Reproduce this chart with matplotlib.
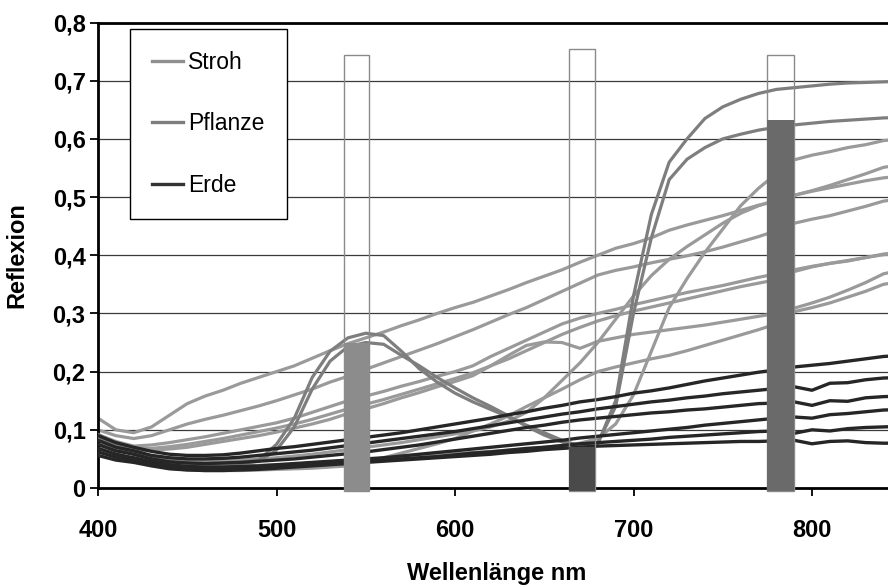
import matplotlib
matplotlib.use("Agg")
import matplotlib.pyplot as plt
from matplotlib.ticker import FixedLocator, FuncFormatter

plt.rcParams['font.family'] = ['Liberation Sans', 'DejaVu Sans']

# Wellenlaengen der Messpunkte (nm)
wl = list(range(400, 860, 10))

# Reflexionsspektren Stroh
stroh = [
    [0.12, 0.10, 0.095, 0.105, 0.125, 0.145, 0.158, 0.168, 0.18, 0.19,
     0.20, 0.21, 0.223, 0.236, 0.248, 0.258, 0.268, 0.279, 0.289, 0.30,
     0.31, 0.319, 0.33, 0.341, 0.353, 0.364, 0.375, 0.388, 0.40, 0.412,
     0.42, 0.43, 0.443, 0.452, 0.46, 0.468, 0.477, 0.486, 0.493, 0.503,
     0.511, 0.52, 0.53, 0.54, 0.551, 0.556],
    [0.10, 0.09, 0.085, 0.09, 0.10, 0.11, 0.118, 0.125, 0.133, 0.141,
     0.15, 0.16, 0.17, 0.182, 0.192, 0.204, 0.215, 0.226, 0.237, 0.248,
     0.26, 0.272, 0.285, 0.298, 0.31, 0.324, 0.338, 0.352, 0.366, 0.374,
     0.38, 0.387, 0.393, 0.399, 0.406, 0.414, 0.423, 0.432, 0.442, 0.455,
     0.462, 0.468, 0.476, 0.484, 0.493, 0.497],
    [0.092, 0.08, 0.072, 0.074, 0.078, 0.083, 0.088, 0.094, 0.10, 0.106,
     0.112, 0.12, 0.13, 0.14, 0.15, 0.158, 0.166, 0.175, 0.183, 0.192,
     0.20, 0.21, 0.226, 0.24, 0.254, 0.268, 0.282, 0.292, 0.30, 0.307,
     0.315, 0.322, 0.329, 0.336, 0.342, 0.348, 0.355, 0.362, 0.368, 0.375,
     0.381, 0.386, 0.391, 0.396, 0.402, 0.405],
    [0.088, 0.076, 0.068, 0.068, 0.071, 0.075, 0.08, 0.085, 0.091, 0.097,
     0.103, 0.11, 0.118, 0.127, 0.136, 0.144, 0.152, 0.161, 0.17, 0.179,
     0.188, 0.198, 0.21, 0.222, 0.236, 0.25, 0.264, 0.276, 0.287, 0.296,
     0.304, 0.311, 0.318, 0.325, 0.332, 0.339, 0.346, 0.352, 0.358, 0.372,
     0.38, 0.386, 0.39, 0.396, 0.401, 0.404],
    [0.085, 0.075, 0.065, 0.065, 0.067, 0.07, 0.075, 0.08, 0.085, 0.09,
     0.096, 0.103, 0.11, 0.118, 0.128, 0.136, 0.145, 0.155, 0.164, 0.174,
     0.183, 0.193, 0.21, 0.228, 0.245, 0.251, 0.25, 0.24, 0.252, 0.258,
     0.264, 0.268, 0.272, 0.276, 0.28, 0.285, 0.29, 0.295, 0.30, 0.309,
     0.318, 0.328, 0.34, 0.353, 0.368, 0.375],
    [0.075, 0.06, 0.048, 0.04, 0.034, 0.031, 0.03, 0.03, 0.03, 0.031,
     0.032, 0.033, 0.034, 0.036, 0.038, 0.045, 0.052, 0.06, 0.068, 0.076,
     0.085, 0.098, 0.11, 0.124, 0.14, 0.155, 0.17, 0.186, 0.20, 0.208,
     0.215, 0.222, 0.228, 0.236, 0.245, 0.254, 0.263, 0.272, 0.282, 0.303,
     0.31, 0.318, 0.328, 0.338, 0.35, 0.355],
    [0.07, 0.058, 0.05, 0.044, 0.04, 0.038, 0.037, 0.037, 0.038, 0.039,
     0.04, 0.041, 0.043, 0.045, 0.047, 0.049, 0.051, 0.053, 0.055, 0.057,
     0.059, 0.061, 0.063, 0.065, 0.067, 0.07, 0.073, 0.077, 0.085, 0.11,
     0.16, 0.235, 0.31, 0.36, 0.405, 0.445, 0.485, 0.515, 0.54, 0.564,
     0.572, 0.578, 0.585, 0.59, 0.597, 0.60],
    [0.08, 0.07, 0.06, 0.055, 0.05, 0.048, 0.047, 0.047, 0.048, 0.05,
     0.052, 0.055, 0.058, 0.062, 0.066, 0.07, 0.074, 0.078, 0.083, 0.088,
     0.093, 0.098, 0.105, 0.115, 0.13, 0.155, 0.185, 0.215, 0.25, 0.29,
     0.33, 0.365, 0.393, 0.415, 0.435, 0.455, 0.472, 0.485, 0.495, 0.503,
     0.51, 0.516, 0.522, 0.528, 0.533, 0.536],
]

# Reflexionsspektren Pflanze (gruener Peak, roter Rand)
pflanze = [
    [0.092, 0.076, 0.062, 0.052, 0.046, 0.043, 0.042, 0.042, 0.044, 0.048,
     0.075, 0.12, 0.19, 0.235, 0.258, 0.266, 0.262, 0.235, 0.205, 0.182,
     0.163, 0.148, 0.135, 0.122, 0.108, 0.095, 0.082, 0.072, 0.076, 0.15,
     0.33, 0.47, 0.56, 0.60, 0.635, 0.655, 0.668, 0.678, 0.685, 0.688,
     0.691, 0.694, 0.696, 0.697, 0.698, 0.699],
    [0.086, 0.072, 0.058, 0.049, 0.044, 0.041, 0.04, 0.04, 0.042, 0.046,
     0.065, 0.105, 0.17, 0.218, 0.243, 0.25, 0.247, 0.228, 0.21, 0.19,
     0.172, 0.155, 0.14, 0.124, 0.106, 0.091, 0.079, 0.072, 0.078, 0.14,
     0.30, 0.43, 0.53, 0.565, 0.585, 0.60, 0.608, 0.615, 0.62, 0.624,
     0.627, 0.63, 0.632, 0.634, 0.636, 0.637],
]

# Reflexionsspektren Erde
erde = [
    [0.09, 0.078, 0.07, 0.063, 0.058, 0.056, 0.056, 0.057, 0.06, 0.064,
     0.068, 0.071, 0.075, 0.079, 0.083, 0.087, 0.091, 0.095, 0.10, 0.105,
     0.11, 0.115, 0.12, 0.126, 0.131, 0.137, 0.142, 0.148, 0.152, 0.157,
     0.163, 0.167, 0.172, 0.178, 0.184, 0.189, 0.194, 0.199, 0.203, 0.208,
     0.211, 0.214, 0.218, 0.222, 0.226, 0.228],
    [0.082, 0.07, 0.064, 0.056, 0.052, 0.05, 0.05, 0.051, 0.053, 0.056,
     0.059, 0.062, 0.065, 0.069, 0.073, 0.077, 0.081, 0.085, 0.089, 0.093,
     0.097, 0.102, 0.107, 0.112, 0.117, 0.122, 0.127, 0.131, 0.136, 0.14,
     0.144, 0.148, 0.151, 0.155, 0.158, 0.162, 0.165, 0.168, 0.171, 0.174,
     0.168, 0.18, 0.181, 0.186, 0.189, 0.19],
    [0.075, 0.064, 0.058, 0.05, 0.045, 0.043, 0.042, 0.043, 0.044, 0.046,
     0.048, 0.05, 0.053, 0.056, 0.059, 0.062, 0.066, 0.07, 0.074, 0.079,
     0.084, 0.089, 0.094, 0.099, 0.104, 0.108, 0.113, 0.117, 0.12, 0.123,
     0.126, 0.129, 0.131, 0.134, 0.136, 0.139, 0.142, 0.145, 0.146, 0.148,
     0.142, 0.15, 0.149, 0.155, 0.157, 0.158],
    [0.068, 0.058, 0.052, 0.045, 0.04, 0.037, 0.036, 0.036, 0.037, 0.038,
     0.04, 0.042, 0.044, 0.046, 0.048, 0.05, 0.052, 0.055, 0.058, 0.061,
     0.064, 0.067, 0.07, 0.073, 0.076, 0.079, 0.082, 0.086, 0.089, 0.092,
     0.095, 0.098, 0.101, 0.104, 0.108, 0.111, 0.114, 0.117, 0.12, 0.122,
     0.12, 0.126, 0.128, 0.131, 0.134, 0.135],
    [0.062, 0.053, 0.048, 0.041, 0.036, 0.033, 0.032, 0.032, 0.033, 0.034,
     0.036, 0.038, 0.04, 0.042, 0.044, 0.046, 0.048, 0.05, 0.052, 0.054,
     0.057, 0.06, 0.062, 0.065, 0.068, 0.07, 0.073, 0.076, 0.078, 0.08,
     0.082, 0.084, 0.087, 0.089, 0.091, 0.093, 0.095, 0.097, 0.098, 0.094,
     0.10, 0.098, 0.102, 0.104, 0.105, 0.106],
    [0.056, 0.048, 0.044, 0.038, 0.033, 0.031, 0.03, 0.03, 0.031, 0.032,
     0.034, 0.036, 0.038, 0.04, 0.042, 0.044, 0.046, 0.048, 0.05, 0.052,
     0.054, 0.056, 0.058, 0.061, 0.063, 0.066, 0.068, 0.07, 0.072, 0.073,
     0.074, 0.075, 0.076, 0.077, 0.078, 0.079, 0.08, 0.08, 0.081, 0.082,
     0.076, 0.08, 0.081, 0.078, 0.077, 0.077],
]

# Kanaele: Mitte, Breite, Filterhoehe und gemessener Wert
band_center = [545, 671, 782.5]
band_width = [14, 14.5, 15]
band_window = [0.745, 0.754, 0.745]
band_value = [0.25, 0.071, 0.632]
band_color = ['#8c8c8c', '#4a4a4a', '#6a6a6a']

c_stroh = '#9a9a9a'
c_pflanze = '#7e7e7e'
c_erde = '#262626'

fig = plt.figure(figsize=(8.88, 5.87), dpi=100)
ax = fig.add_axes([98 / 888, 1 - 488 / 587, 790 / 888, (488 - 22.5) / 587])

for y in stroh:
    ax.plot(wl, y, color=c_stroh, lw=2.3, zorder=2)
for y in pflanze:
    ax.plot(wl, y, color=c_pflanze, lw=2.3, zorder=3)
for y in erde:
    ax.plot(wl, y, color=c_erde, lw=2.4, zorder=4)

# Filterfenster (leer) und Messwert (gefuellt)
ax.bar(band_center, [h + 0.005 for h in band_window], width=band_width,
       bottom=-0.005, facecolor='none', edgecolor='#8a8a8a', lw=1.0,
       zorder=5, clip_on=False)
ax.bar(band_center, [h + 0.005 for h in band_value], width=band_width,
       bottom=-0.005, color=band_color, lw=0, zorder=6, clip_on=False)

# Legende
ax.plot([], [], color='#8f8f8f', lw=2.4, label='Stroh')
ax.plot([], [], color=c_pflanze, lw=2.4, label='Pflanze')
ax.plot([], [], color='#333333', lw=2.4, label='Erde')
handles, labels = ax.get_legend_handles_labels()
leg = ax.legend(handles[-3:], labels[-3:], loc='upper left',
                bbox_to_anchor=(0.0405, 0.986), borderaxespad=0,
                fancybox=False, frameon=True, edgecolor='black',
                framealpha=1, fontsize=16.5, handlelength=1.35,
                handletextpad=0.25, borderpad=0.95, labelspacing=1.68)
leg.get_frame().set_linewidth(1.0)
leg.set_zorder(10)

ax.set_xlim(400, 400 + 790 / 1.785)
ax.set_ylim(0, 0.8)
ax.xaxis.set_major_locator(FixedLocator([400, 500, 600, 700, 800]))
ax.yaxis.set_major_locator(FixedLocator([0, 0.1, 0.2, 0.3, 0.4, 0.5, 0.6, 0.7, 0.8]))
ax.yaxis.set_major_formatter(FuncFormatter(
    lambda v, p: '0' if v == 0 else f'{v:.1f}'.replace('.', ',')))
ax.grid(axis='y', color='#3a3a3a', lw=0.9, zorder=1)
ax.set_axisbelow(True)

for s in ['left', 'bottom', 'top']:
    ax.spines[s].set_linewidth(2.0)
    ax.spines[s].set_color('black')
ax.spines['right'].set_visible(False)

ax.tick_params(axis='both', direction='out', length=6, width=1.3,
               labelsize=17)
ax.tick_params(axis='x', pad=16)
ax.tick_params(axis='y', pad=3)
for t in ax.get_xticklabels() + ax.get_yticklabels():
    t.set_fontweight('bold')

ax.set_xlabel('Wellenlänge nm', fontsize=17, fontweight='bold')
ax.set_ylabel('Reflexion', fontsize=17, fontweight='bold')
ax.xaxis.set_label_coords(0.505, -0.16)
ax.yaxis.set_label_coords(-0.088, 0.5)

fig.savefig('out.png', dpi=100)
